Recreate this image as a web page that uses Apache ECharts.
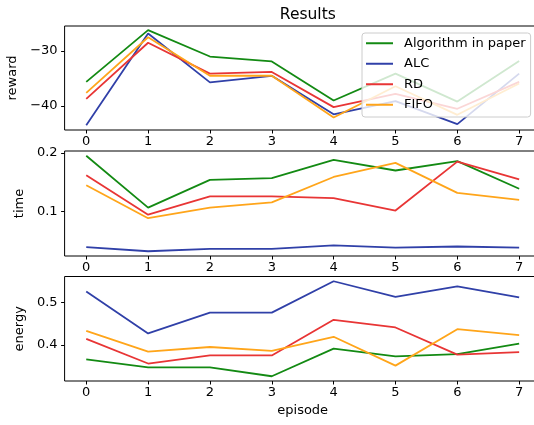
<!DOCTYPE html>
<html>
<head>
<meta charset="utf-8">
<script src="https://cdn.jsdelivr.net/npm/echarts@6/dist/echarts.min.js"></script>
<style>
html,body{margin:0;padding:0;background:#fff;}
#c{width:534px;height:425px;}
</style>
</head>
<body>
<div id="c"></div>
<script>
const episodes = [0, 1, 2, 3, 4, 5, 6, 7];
const seriesNames = ['Algorithm in paper', 'ALC', 'RD', 'FIFO'];

const rewardPaper = [-35.6, -26.2, -31.0, -31.9, -39.0, -34.1, -39.2, -31.8];
const rewardALC   = [-43.5, -26.8, -35.7, -34.5, -41.5, -39.1, -43.3, -34.1];
const rewardRD    = [-38.7, -28.5, -34.1, -33.8, -40.2, -37.8, -40.5, -35.6];
const rewardFIFO  = [-37.6, -27.5, -34.5, -34.5, -42.1, -36.4, -41.6, -35.9];

const timePaper = [0.195, 0.107, 0.154, 0.157, 0.188, 0.170, 0.186, 0.139];
const timeALC   = [0.040, 0.033, 0.037, 0.037, 0.043, 0.039, 0.041, 0.039];
const timeRD    = [0.162, 0.095, 0.126, 0.126, 0.123, 0.102, 0.185, 0.155];
const timeFIFO  = [0.145, 0.089, 0.107, 0.116, 0.159, 0.183, 0.132, 0.120];

const energyPaper = [0.366, 0.347, 0.347, 0.326, 0.391, 0.373, 0.378, 0.403];
const energyALC   = [0.526, 0.427, 0.476, 0.476, 0.550, 0.513, 0.538, 0.512];
const energyRD    = [0.414, 0.356, 0.375, 0.375, 0.459, 0.441, 0.377, 0.383];
const energyFIFO  = [0.433, 0.384, 0.395, 0.386, 0.419, 0.351, 0.437, 0.423];

const xTicks = [0, 1, 2, 3, 4, 5, 6, 7];
const rewardTicks = [-40, -30];
const timeTicks = [0.1, 0.2];
const energyTicks = [0.4, 0.5];

const colors = ['#138a13', '#3040a8', '#e83535', '#ffa51a'];
const FONT = 'DejaVu Sans';
const FS = 13;

const panels = [
  { name: 'reward', data: [rewardPaper, rewardALC, rewardRD, rewardFIFO], ticks: rewardTicks, min: -44.36, max: -25.45, top: 26, height: 104, nameGap: 43 },
  { name: 'time', data: [timePaper, timeALC, timeRD, timeFIFO], ticks: timeTicks, min: 0.0249, max: 0.2031, top: 151, height: 105, nameGap: 38 },
  { name: 'energy', data: [energyPaper, energyALC, energyRD, energyFIFO], ticks: energyTicks, min: 0.3148, max: 0.5612, top: 276.5, height: 104.5, nameGap: 36 }
];

function fmt(v) {
  return v < 0 ? '\u2212' + String(-v) : String(v);
}

const grid = [], xAxis = [], yAxis = [], series = [];
panels.forEach((p, i) => {
  grid.push({ left: 64.6, right: -6.8, top: p.top, height: p.height, show: true, borderColor: '#000', borderWidth: 1, backgroundColor: 'transparent', containLabel: false, outerBoundsMode: 'none' });
  xAxis.push({
    type: 'value', gridIndex: i, min: -0.35, max: 7.35, position: 'bottom',
    axisLine: { show: false, onZero: false },
    axisTick: { show: true, customValues: xTicks, length: 3.5, lineStyle: { color: '#000' } },
    axisLabel: { show: true, customValues: xTicks, margin: 5, color: '#000', fontFamily: FONT, fontSize: FS, formatter: fmt },
    splitLine: { show: false },
    name: i === 2 ? 'episode' : '',
    nameLocation: 'middle', nameGap: 23,
    nameTextStyle: { color: '#000', fontFamily: FONT, fontSize: FS }
  });
  yAxis.push({
    type: 'value', gridIndex: i, min: p.min, max: p.max, position: 'left',
    axisLine: { show: false, onZero: false },
    axisTick: { show: true, customValues: p.ticks, length: 3.5, lineStyle: { color: '#000' } },
    axisLabel: { show: true, customValues: p.ticks, margin: 7, color: '#000', fontFamily: FONT, fontSize: FS, formatter: fmt },
    splitLine: { show: false },
    name: p.name, nameLocation: 'middle', nameGap: p.nameGap, nameRotate: 90,
    nameTextStyle: { color: '#000', fontFamily: FONT, fontSize: FS }
  });
  p.data.forEach((arr, k) => {
    series.push({
      type: 'line', name: seriesNames[k], xAxisIndex: i, yAxisIndex: i,
      data: episodes.map((e, j) => [e, arr[j]]),
      symbol: 'none', silent: true, animation: false,
      lineStyle: { color: colors[k], width: 1.8 },
      itemStyle: { color: colors[k] }
    });
  });
});

const chart = echarts.init(document.getElementById('c'), null, { renderer: 'canvas' });
chart.setOption({
  animation: false,
  color: colors,
  title: { text: 'Results', left: 302.8, textAlign: 'center', top: 2, textStyle: { fontFamily: FONT, fontSize: 15.5, fontWeight: 'normal', color: '#000' } },
  legend: {
    data: seriesNames, orient: 'vertical', left: 362, top: 33,
    icon: 'rect', itemWidth: 27, itemHeight: 2, itemGap: 0,
    padding: [0, 5, 2, 4],
    backgroundColor: 'rgba(255,255,255,0.8)', borderColor: '#cccccc', borderWidth: 1, borderRadius: 3,
    textStyle: { fontFamily: FONT, fontSize: FS, color: '#000', lineHeight: 20.5, padding: [0, 0, 0, 6] },
    z: 10
  },
  grid, xAxis, yAxis, series
});
</script>
</body>
</html>
